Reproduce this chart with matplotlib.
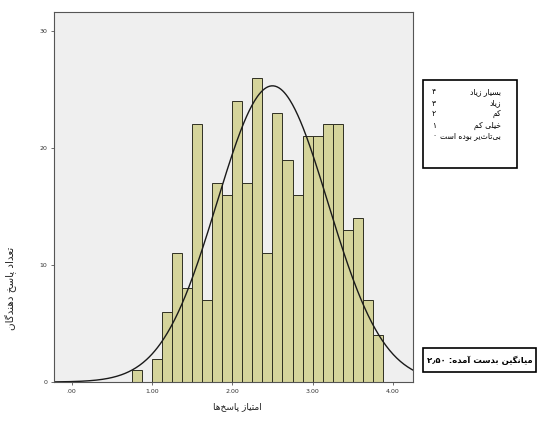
import numpy as np
import matplotlib
matplotlib.use("Agg")
import matplotlib.pyplot as plt
from matplotlib.patches import Rectangle

# histogram of response scores (bin width 0.125)
bin_edges_left = [0.75, 0.875, 1.0, 1.125, 1.25, 1.375, 1.5, 1.625, 1.75, 1.875,
                  2.0, 2.125, 2.25, 2.375, 2.5, 2.625, 2.75, 2.875, 3.0, 3.125,
                  3.25, 3.375, 3.5, 3.625, 3.75]
counts = [1, 0, 2, 6, 11, 8, 22, 7, 17, 16, 24, 17, 26, 11, 23, 19, 16, 21, 21, 22,
          22, 13, 14, 7, 4]
bin_width = 0.125
mean_score = 2.50
sd_score = 0.69

x_ticks = [0, 1, 2, 3, 4]
x_ticklabels = [".00", "1.00", "2.00", "3.00", "4.00"]
y_ticks = [0, 10, 20, 30]

legend_labels = ["بسیار زیاد", "زیاد", "کم", "خیلی کم", "بی‌تاثیر بوده است"]
legend_codes = ["۴", "۳", "۲", "۱", "۰"]

# matplotlib has no arabic shaping, so map letters to presentation forms
FORMS = {
    "ا": ("\uFE8D", "\uFE8E", None, None),
    "آ": ("\uFE81", "\uFE82", None, None),
    "ب": ("\uFE8F", "\uFE90", "\uFE91", "\uFE92"),
    "پ": ("\uFB56", "\uFB57", "\uFB58", "\uFB59"),
    "ت": ("\uFE95", "\uFE96", "\uFE97", "\uFE98"),
    "خ": ("\uFEA5", "\uFEA6", "\uFEA7", "\uFEA8"),
    "د": ("\uFEA9", "\uFEAA", None, None),
    "ر": ("\uFEAD", "\uFEAE", None, None),
    "ز": ("\uFEAF", "\uFEB0", None, None),
    "س": ("\uFEB1", "\uFEB2", "\uFEB3", "\uFEB4"),
    "ع": ("\uFEC9", "\uFECA", "\uFECB", "\uFECC"),
    "ک": ("\uFB8E", "\uFB8F", "\uFB90", "\uFB91"),
    "گ": ("\uFB92", "\uFB93", "\uFB94", "\uFB95"),
    "ل": ("\uFEDD", "\uFEDE", "\uFEDF", "\uFEE0"),
    "م": ("\uFEE1", "\uFEE2", "\uFEE3", "\uFEE4"),
    "ن": ("\uFEE5", "\uFEE6", "\uFEE7", "\uFEE8"),
    "ه": ("\uFEE9", "\uFEEA", "\uFEEB", "\uFEEC"),
    "و": ("\uFEED", "\uFEEE", None, None),
    "ی": ("\uFBFC", "\uFBFD", "\uFBFE", "\uFBFF"),
}


def shape(text):
    # returns the text in visual (left to right) order
    out = []
    for i, c in enumerate(text):
        if c not in FORMS:
            if c != "\u200c":
                out.append(c)
            continue
        prev = text[i - 1] if i > 0 else None
        nxt = text[i + 1] if i + 1 < len(text) else None
        jp = prev in FORMS and FORMS[prev][2] is not None
        jn = FORMS[c][2] is not None and nxt in FORMS
        iso, fin, ini, med = FORMS[c]
        if jp and jn:
            out.append(med)
        elif jp:
            out.append(fin)
        elif jn:
            out.append(ini)
        else:
            out.append(iso)
    return "".join(reversed(out))


fig = plt.figure(figsize=(5.37, 4.21), dpi=100)
fig.patch.set_facecolor("white")
ax = fig.add_axes([54 / 537, 39 / 421, 359 / 537, 370 / 421])
ax.set_facecolor("#efefef")

ax.bar(bin_edges_left, counts, width=bin_width, align="edge",
       color="#d5d49b", edgecolor="#2f2f22", linewidth=0.7)

xs = np.linspace(-0.22, 4.25, 400)
n_total = sum(counts)
curve = n_total * bin_width / (sd_score * np.sqrt(2 * np.pi)) * \
    np.exp(-0.5 * ((xs - mean_score) / sd_score) ** 2)
ax.plot(xs, curve, color="#1a1a1a", linewidth=1.0)

ax.set_xlim(-0.22, 4.25)
ax.set_ylim(0, 31.6)
ax.set_xticks(x_ticks)
ax.set_xticklabels(x_ticklabels)
ax.set_yticks(y_ticks)
ax.tick_params(axis="both", labelsize=4.5, length=2, width=0.5,
               colors="#333333", pad=3)
for s in ax.spines.values():
    s.set_color("#555555")
    s.set_linewidth(0.8)

fig.text(237 / 537, 1 - 407 / 421, shape("امتیاز پاسخ‌ها"),
         ha="center", va="center", fontsize=6.5, color="#222222")
fig.text(11 / 537, 1 - 288 / 421, shape("تعداد پاسخ دهندگان"),
         ha="center", va="center", fontsize=7.5, rotation=90, color="#222222")

# legend box with the score codes
fig.patches.append(Rectangle((423 / 537, 1 - 168 / 421), 94 / 537, 88 / 421,
                             transform=fig.transFigure, fill=False,
                             edgecolor="black", linewidth=1.2))
for i, (lab, code) in enumerate(zip(legend_labels, legend_codes)):
    yy = 1 - (92 + i * 11) / 421
    fig.text(434 / 537, yy, code, ha="center", va="center", fontsize=5.5)
    fig.text(501 / 537, yy, shape(lab), ha="right", va="center", fontsize=5.5)

# mean box
fig.patches.append(Rectangle((423 / 537, 1 - 372 / 421), 113 / 537, 24 / 421,
                             transform=fig.transFigure, fill=False,
                             edgecolor="black", linewidth=1.2))
mean_text = "۲٫۵۰ " + shape("میانگین بدست آمده:")
fig.text(480 / 537, 1 - 360 / 421, mean_text, ha="center", va="center",
         fontsize=6.1, fontweight="bold")

fig.savefig("out.png", dpi=100)
